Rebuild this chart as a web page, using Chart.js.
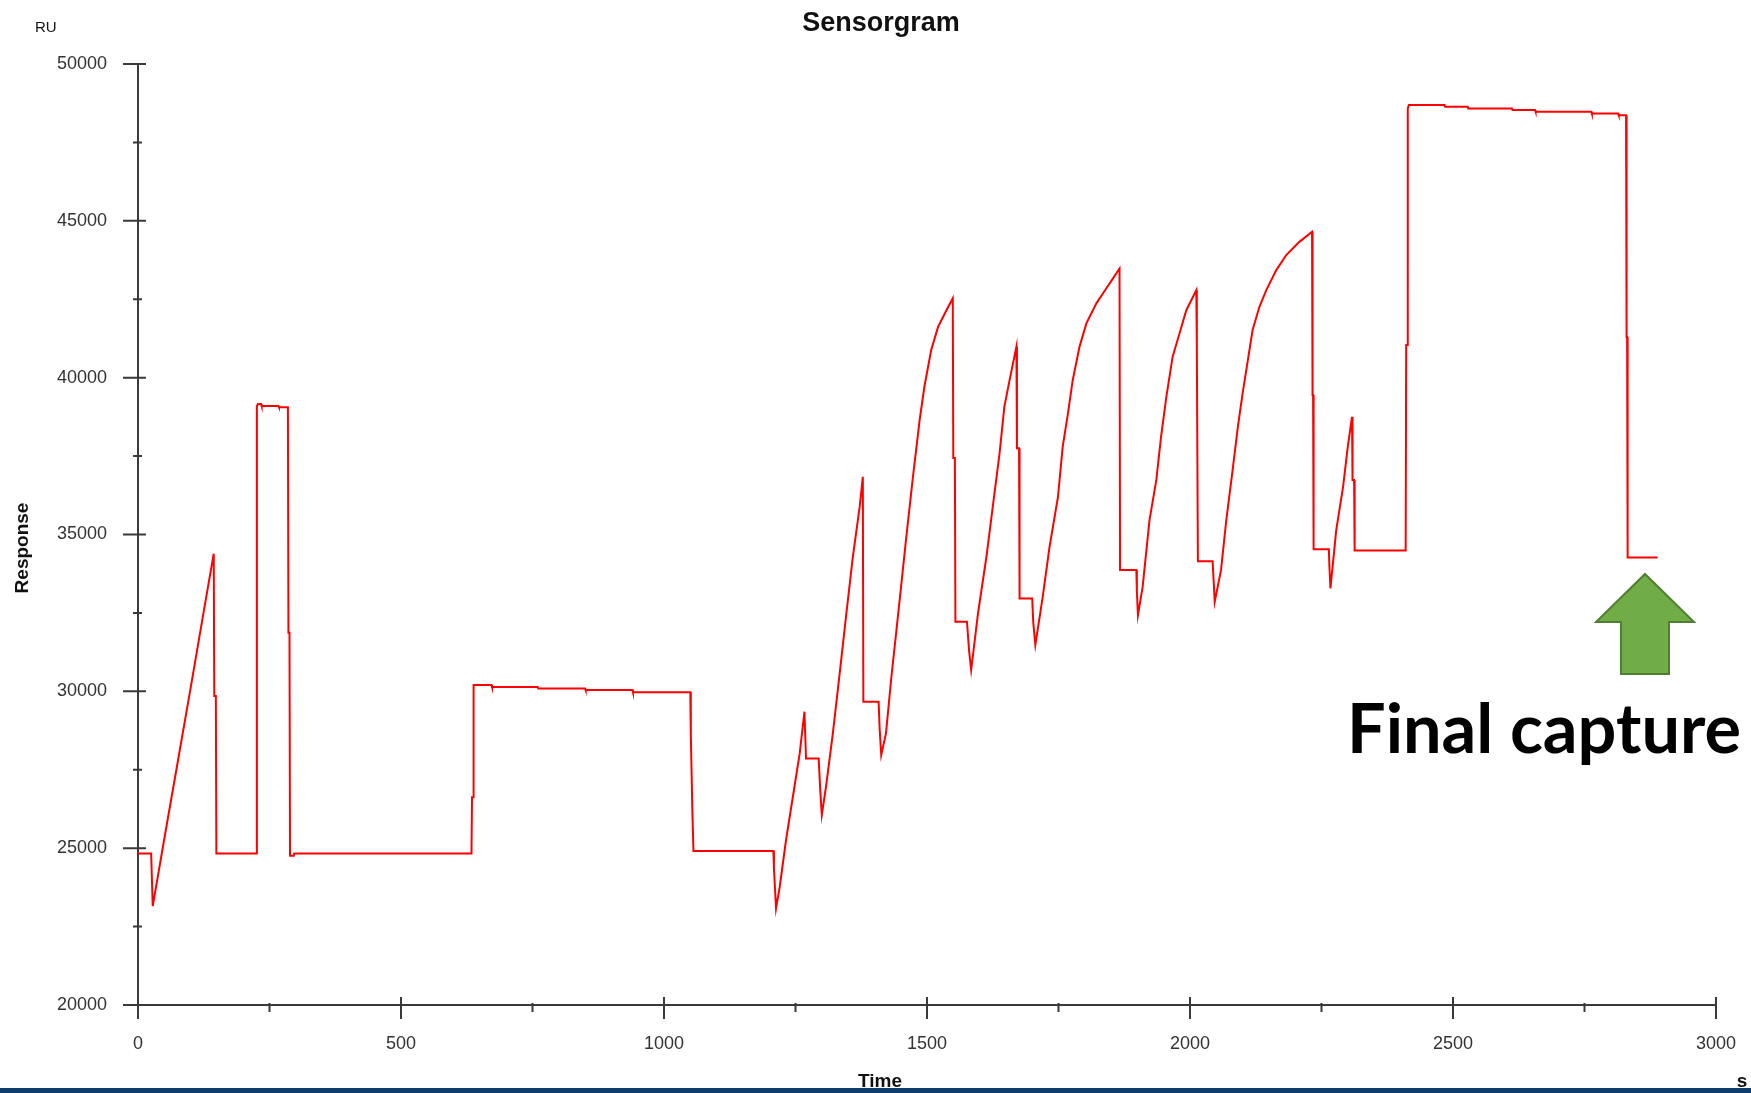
<!DOCTYPE html>
<html lang="en">

<head>
  <meta charset="UTF-8" />
  <title>Sensorgram</title>
  <script src="https://cdn.jsdelivr.net/npm/chart.js"></script>
  <style>
    body {
      margin: 0;
      background: #fff;
    }

    #wrap {
      position: relative;
      width: 1751px;
      height: 1093px;
    }
  </style>
</head>

<body>
  <div id="wrap"><canvas id="sensorgram"></canvas></div>
  <script>
    // time (s) and response (RU)
    const times = [
      0, 25, 28, 50, 75, 100, 125, 144, 145, 148, 149,
      225, 226, 228, 234, 235, 267, 268, 285, 286, 288, 289, 296, 297,
      634, 635, 637, 638, 672, 673, 760, 761, 850, 851, 940, 941,
      1050, 1051, 1054, 1056, 1208, 1209, 1213, 1220, 1232, 1245, 1258, 1267, 1270,
      1294, 1297, 1300, 1308, 1321, 1334, 1346, 1359, 1372, 1378, 1379,
      1408, 1410, 1413, 1422, 1432, 1448, 1460, 1473, 1486, 1495, 1508, 1521, 1537, 1549,
      1550, 1553, 1554, 1576, 1580, 1584, 1597, 1613, 1625, 1638, 1647, 1657, 1670,
      1671, 1675, 1676, 1700, 1702, 1706, 1720, 1733, 1749, 1758, 1768, 1777, 1790,
      1803, 1822, 1841, 1853, 1866, 1867, 1898, 1899, 1901, 1910, 1923, 1936, 1945,
      1955, 1967, 1980, 1993, 2012, 2013, 2015, 2043, 2045, 2047, 2059, 2069, 2081,
      2091, 2100, 2110, 2119, 2132, 2145, 2164, 2183, 2208, 2232, 2233, 2234, 2235,
      2264, 2265, 2267, 2278, 2291, 2300, 2308, 2309, 2312, 2313, 2410, 2411, 2413,
      2414, 2416, 2484, 2485, 2528, 2529, 2612, 2613, 2656, 2657, 2763, 2764, 2814,
      2815, 2829, 2830, 2831, 2832, 2889
    ];
    const responses = [
      24830, 24830, 23150, 25300, 27700, 30100, 32550, 34390, 29850, 29850, 24830,
      24830, 39100, 39160, 39160, 39100, 39100, 39060, 39060, 31870, 31870, 24760, 24760, 24830,
      24830, 26620, 26620, 30200, 30200, 30140, 30140, 30090, 30090, 30040, 30040, 29970,
      29970, 28610, 26110, 24910, 24910, 24360, 23080, 23770, 25260, 26640, 28020, 29350, 27860,
      27860, 26860, 26060, 26960, 28660, 30570, 32380, 34290, 35880, 36840, 29670,
      29670, 28800, 27970, 28660, 30410, 32910, 34820, 36800, 38650, 39710, 40880, 41620, 42150, 42530,
      37440, 37440, 32220, 32220, 31300, 30680, 32490, 34290, 35880, 37590, 39070, 39920, 40990,
      37750, 37750, 32960, 32960, 32200, 31480, 33010, 34610, 36200, 37800, 38860, 39920, 40990,
      41730, 42370, 42850, 43150, 43480, 33870, 33870, 33200, 32430, 33340, 35460, 36740, 38120,
      39390, 40670, 41410, 42150, 42790, 40990, 34150, 34150, 33500, 32860, 33870, 35460, 37050,
      38430, 39500, 40560, 41520, 42260, 42790, 43430, 43910, 44330, 44650, 39450, 39450, 34530,
      34530, 34000, 33280, 35140, 36520, 37800, 38750, 36740, 36740, 34490, 34490, 41040, 41040,
      48580, 48690, 48690, 48640, 48640, 48580, 48580, 48530, 48530, 48480, 48480, 48420, 48420,
      48370, 48370, 41300, 41300, 34270, 34270
    ];

    // axis ticks
    const xTickValues = [0, 500, 1000, 1500, 2000, 2500, 3000];
    const yTickValues = [20000, 25000, 30000, 35000, 40000, 45000, 50000];

    const chartTitle = 'Sensorgram';
    const xTitle = 'Time';
    const xUnit = 's';
    const yTitle = 'Response';
    const yUnit = 'RU';
    const noteText = 'Final capture';

    const tickFont = { family: '"Liberation Sans", Arial, sans-serif', size: 18 };
    const axisColor = '#3a3a3a';

    // axis lines, major/minor ticks
    const axesPlugin = {
      id: 'sensorgramAxes',
      beforeDatasetsDraw(chart) {
        const { ctx, chartArea, scales } = chart;
        const x = scales.x, y = scales.y;
        const left = chartArea.left, bottom = chartArea.bottom;
        ctx.save();
        ctx.strokeStyle = axisColor;
        ctx.lineWidth = 2;
        ctx.beginPath();
        ctx.moveTo(left, y.getPixelForValue(yTickValues[yTickValues.length - 1]));
        ctx.lineTo(left, bottom);
        ctx.lineTo(x.getPixelForValue(xTickValues[xTickValues.length - 1]), bottom);
        yTickValues.forEach((v, i) => {
          const py = y.getPixelForValue(v);
          ctx.moveTo(left - 15, py);
          ctx.lineTo(left + 8, py);
          if (i < yTickValues.length - 1) {
            const pm = y.getPixelForValue((v + yTickValues[i + 1]) / 2);
            ctx.moveTo(left - 5, pm);
            ctx.lineTo(left + 4, pm);
          }
        });
        xTickValues.forEach((v, i) => {
          const px = x.getPixelForValue(v);
          ctx.moveTo(px, bottom - 8);
          ctx.lineTo(px, bottom + 14);
          if (i < xTickValues.length - 1) {
            const pm = x.getPixelForValue((v + xTickValues[i + 1]) / 2);
            ctx.moveTo(pm, bottom - 2);
            ctx.lineTo(pm, bottom + 7);
          }
        });
        ctx.stroke();
        ctx.restore();
      }
    };

    // titles, arrow note, bottom strip
    const textPlugin = {
      id: 'sensorgramText',
      afterDraw(chart) {
        const { ctx } = chart;
        ctx.save();
        ctx.fillStyle = '#111';
        ctx.textAlign = 'center';
        ctx.textBaseline = 'alphabetic';
        ctx.font = 'bold 27px "Liberation Sans", Arial, sans-serif';
        ctx.fillText(chartTitle, 881, 31);

        ctx.font = '15px "Liberation Sans", Arial, sans-serif';
        ctx.textAlign = 'left';
        ctx.fillText(yUnit, 35, 32);

        ctx.font = 'bold 19px "Liberation Sans", Arial, sans-serif';
        ctx.textAlign = 'center';
        ctx.fillText(xTitle, 880, 1087);
        ctx.fillText(xUnit, 1742, 1087);

        ctx.save();
        ctx.translate(23, 548);
        ctx.rotate(-Math.PI / 2);
        ctx.textBaseline = 'middle';
        ctx.fillText(yTitle, 0, 0);
        ctx.restore();

        // green arrow
        ctx.beginPath();
        ctx.moveTo(1645, 574);
        ctx.lineTo(1694, 622);
        ctx.lineTo(1669, 622);
        ctx.lineTo(1669, 674);
        ctx.lineTo(1621, 674);
        ctx.lineTo(1621, 622);
        ctx.lineTo(1596, 622);
        ctx.closePath();
        ctx.fillStyle = '#70ad47';
        ctx.fill();
        ctx.strokeStyle = '#507e32';
        ctx.lineWidth = 2;
        ctx.stroke();

        // note text, sized to its width in the picture
        ctx.font = 'bold 100px Lato, "Open Sans", sans-serif';
        const w = ctx.measureText(noteText).width;
        const size = 100 * 394 / w;
        ctx.font = 'bold ' + size.toFixed(1) + 'px Lato, "Open Sans", sans-serif';
        ctx.textAlign = 'left';
        ctx.fillStyle = '#000';
        ctx.fillText(noteText, 1347, 753);

        ctx.fillStyle = '#0d3b6a';
        ctx.fillRect(0, 1088, chart.width, chart.height - 1088);
        ctx.restore();
      }
    };

    const chart = new Chart(document.getElementById('sensorgram'), {
      type: 'line',
      data: {
        datasets: [{
          data: times.map((t, i) => ({ x: t, y: responses[i] })),
          borderColor: '#ff0000',
          borderWidth: 2,
          pointRadius: 0,
          tension: 0,
          fill: false
        }]
      },
      options: {
        responsive: true,
        maintainAspectRatio: false,
        animation: false,
        layout: { padding: { top: 64, right: 35, bottom: 0, left: 0 } },
        plugins: {
          legend: { display: false },
          title: { display: false },
          tooltip: { enabled: false }
        },
        scales: {
          x: {
            type: 'linear',
            min: 0,
            max: 3000,
            afterBuildTicks: (scale) => { scale.ticks = xTickValues.map(v => ({ value: v })); },
            afterFit: (scale) => { scale.height = 88; },
            ticks: {
              font: tickFont,
              color: '#333',
              padding: 8,
              maxRotation: 0,
              callback: (v) => String(v)
            },
            grid: { color: 'rgba(0,0,0,0)', drawOnChartArea: false, drawTicks: true, tickLength: 20 },
            border: { display: false }
          },
          y: {
            type: 'linear',
            min: 20000,
            max: 50000,
            afterBuildTicks: (scale) => { scale.ticks = yTickValues.map(v => ({ value: v })); },
            afterFit: (scale) => { scale.width = 138; },
            ticks: {
              font: tickFont,
              color: '#333',
              padding: 9,
              callback: (v) => String(v)
            },
            grid: { color: 'rgba(0,0,0,0)', drawOnChartArea: false, drawTicks: true, tickLength: 22 },
            border: { display: false }
          }
        }
      },
      plugins: [axesPlugin, textPlugin]
    });
  </script>
</body>

</html>
